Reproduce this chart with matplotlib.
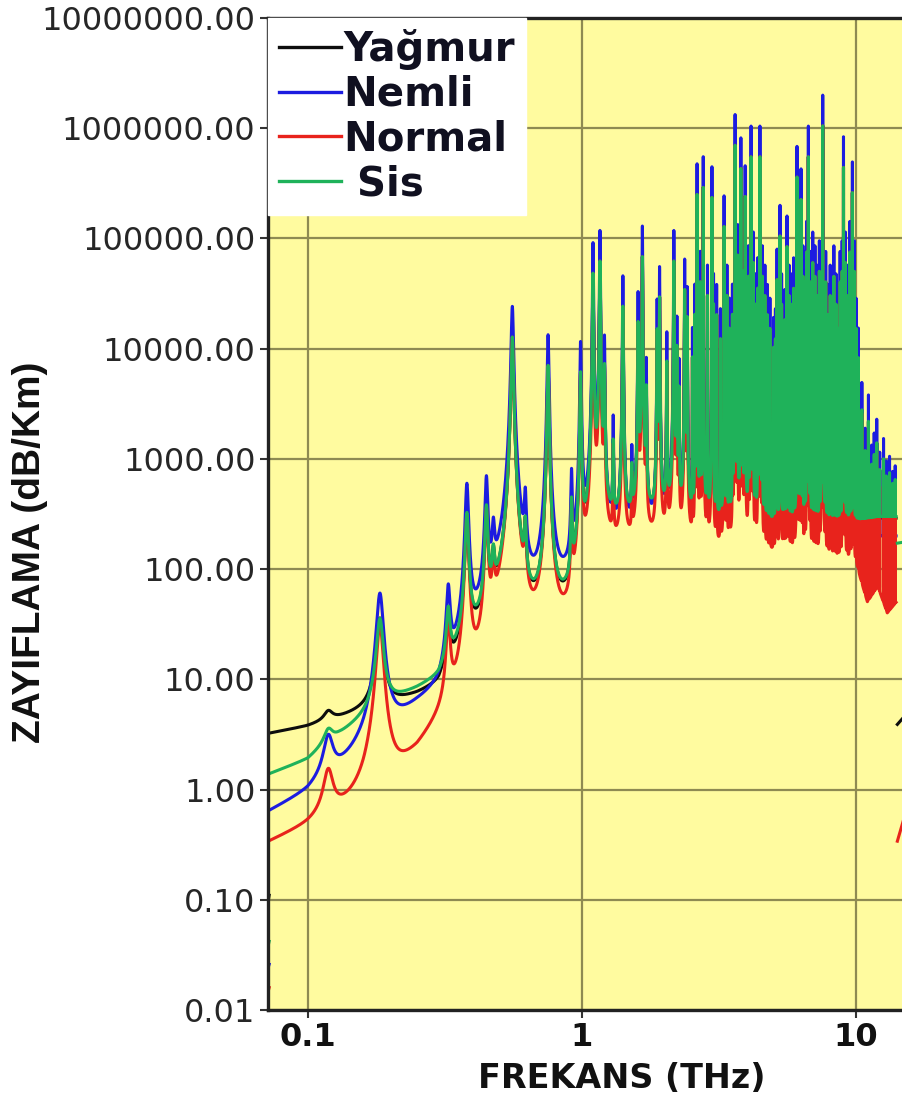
import numpy as np
import matplotlib
matplotlib.use("Agg")
import matplotlib.pyplot as plt
from matplotlib.lines import Line2D

# absorption line centres (THz) and peak attenuation for the "Normal" case (dB/Km)
line_thz = [0.1187, 0.1831, 0.3252, 0.3802, 0.4480, 0.4750, 0.5570, 0.6210, 0.7520,
            0.9160, 0.9880, 1.0970, 1.1630, 1.2080, 1.3000, 1.4100, 1.5200, 1.6020,
            1.6610, 1.7170, 1.8800, 1.9190, 2.0400, 2.1640, 2.2200, 2.2600, 2.3700,
            2.4200, 2.5300, 2.5800, 2.6300, 2.7000, 2.7700, 2.8700, 2.9800, 3.0200,
            3.1000, 3.2000, 3.3000, 3.3800, 3.4500, 3.5400, 3.6200, 3.7000, 3.8000,
            3.8700, 3.9400, 4.0500, 4.1400, 4.2200, 4.3000, 4.3800, 4.4600, 4.5500,
            4.6500, 4.7500, 4.8500, 5.0000, 5.0800, 5.1500, 5.2800, 5.3500, 5.4300,
            5.5000, 5.6000, 5.7000, 5.8000, 5.9200, 6.0900, 6.2000, 6.3000, 6.4000,
            6.5000, 6.6000, 6.7000, 6.8200, 6.9500, 7.0800, 7.2000, 7.3500, 7.4500,
            7.5600, 7.7500, 7.9000, 8.0500, 8.1500, 8.3000, 8.4500, 8.6000, 8.7500,
            8.9000, 9.0000, 9.1500, 9.3000, 9.5000, 9.7000, 9.8500, 10.000, 10.200,
            10.500, 10.800, 11.100, 11.400, 11.650, 11.900, 12.200, 12.600, 12.900,
            13.250, 13.600, 13.900]
line_peak = [0.9, 30, 30, 300, 330, 85, 12700, 190, 7000,
             340, 6000, 48000, 62000, 6500, 1150, 24000, 520, 17000,
             68000, 4000, 14500, 29000, 7300, 62000, 10000, 4000, 34000,
             19000, 8000, 20000, 250000, 40000, 290000, 30000, 235000, 25000,
             20000, 12000, 128000, 30000, 15000, 20000, 700000, 70000, 430000,
             50000, 240000, 45000, 550000, 60000, 25000, 35000, 550000, 45000,
             30000, 20000, 15000, 10000, 12000, 42000, 105000, 25000, 15000,
             18000, 84000, 30000, 25000, 35000, 360000, 50000, 225000, 45000,
             40000, 75000, 550000, 40000, 60000, 45000, 30000, 50000, 25000,
             1050000, 40000, 20000, 30000, 15000, 45000, 25000, 15000, 40000,
             50000, 440000, 60000, 30000, 75000, 260000, 50000, 15000, 8000,
             2500, 900, 1900, 600, 800, 1100, 500, 700, 400,
             450, 300, 350]

# background (continuum) attenuation between the lines, per weather case
cont_thz = [0.07, 0.1, 0.13, 0.16, 0.2, 0.25, 0.3, 0.4, 0.5, 0.7, 0.9, 1.2, 2.0, 4.0, 8.0, 10.0, 11.0, 12.0, 13.0, 14.0]
cont_yagmur = [3.2, 3.8, 4.6, 5.4, 6.5, 7.6, 9.0, 25, 42, 42, 48, 230, 280, 260, 260, 260, 280, 290, 290, 290]
cont_nemli = [0.62, 1.0, 1.7, 2.6, 4.5, 6.5, 8.5, 30, 60, 65, 80, 170, 200, 190, 180, 180, 190, 200, 200, 200]
cont_normal = [0.33, 0.5, 0.72, 0.95, 1.6, 2.5, 4.2, 10, 22, 30, 32, 150, 170, 150, 130, 110, 50, 70, 40, 50]
cont_sis = [1.35, 1.9, 3.2, 4.5, 6.8, 8.5, 10.5, 28, 45, 45, 51, 250, 300, 280, 280, 280, 290, 300, 300, 300]

# line strength relative to the Normal case, and line broadening above 1 THz
scale_yagmur, scale_nemli, scale_normal, scale_sis = 1.0, 1.9, 1.0, 1.0
broad_yagmur, broad_nemli, broad_normal, broad_sis = 1.2, 1.0, 1.0, 1.2
# half-widths (THz) below 1 THz, 1-2.5 THz and above 2.5 THz
width_low, width_mid, width_high = 0.005, 0.0035, 0.0011

# short pieces at the two ends of the frequency range
head_thz = [0.0700, 0.0722]
head_yagmur = [0.07, 0.11]
head_nemli = [0.020, 0.026]
head_normal = [0.012, 0.016]
head_sis = [0.030, 0.042]
tail_thz = [14.15, 15.0]
tail_yagmur = [3.9, 4.6]
tail_normal = [0.34, 0.56]
tail_sis = [172, 176]

labels = ["Yağmur", "Nemli", "Normal", " Sis"]
colors = ["#0d0d0d", "#1c1ce0", "#e8231c", "#1fb25a"]


def spectrum(cont_vals, scale, broad, f):
    total = 10 ** np.interp(np.log10(f), np.log10(cont_thz), np.log10(cont_vals))
    for f0, h in zip(line_thz, line_peak):
        if f0 < 1:
            g = width_low
        elif f0 < 2.5:
            g = width_mid * broad
        else:
            g = width_high * broad
        d = f - f0
        total += scale * h * g ** 2 / (d ** 2 + g ** 2) * np.exp(-(d / (0.25 * f0)) ** 2)
    return total


freq = np.unique(np.concatenate([np.geomspace(0.0715, 14.0, 9000), line_thz]))
series = [
    (cont_yagmur, scale_yagmur, broad_yagmur, head_yagmur, tail_yagmur),
    (cont_nemli, scale_nemli, broad_nemli, head_nemli, None),
    (cont_normal, scale_normal, broad_normal, head_normal, tail_normal),
    (cont_sis, scale_sis, broad_sis, head_sis, tail_sis),
]

W, H = 902, 1102
fig = plt.figure(figsize=(W / 100, H / 100), dpi=100)
ax = fig.add_axes([268 / W, 92 / H, (976 - 268) / W, 992 / H])
ax.set_facecolor('#fffb9f')
ax.set_xscale('log')
ax.set_yscale('log')

for (cont, k, b, head, tail), c in zip(series, colors):
    ax.plot(freq, spectrum(cont, k, b, freq), color=c, lw=2.2, solid_joinstyle='round')
    ax.plot(head_thz, head, color=c, lw=2.2)
    if tail is not None:
        ax.plot(tail_thz, tail, color=c, lw=2.2)

ax.set_xlim(0.0715, 27.4)
ax.set_ylim(0.01, 1e7)
ax.set_axisbelow(True)
ax.grid(True, which='major', color='#8e8a52', lw=1.6)
ax.minorticks_off()

yt = [0.01, 0.1, 1, 10, 100, 1000, 1e4, 1e5, 1e6, 1e7]
ax.set_yticks(yt)
ax.set_yticklabels([f"{v:.2f}" for v in yt], fontsize=23, color='#262626')
ax.set_xticks([0.1, 1, 10])
ax.set_xticklabels(["0.1", "1", "10"], fontsize=23, fontweight='bold', color='#111111')
ax.tick_params(axis='both', direction='out', length=6, width=1.5, color='#333333', pad=3)

for s in ['left', 'bottom', 'top']:
    ax.spines[s].set_color('#222222')
    ax.spines[s].set_linewidth(2.4)
ax.spines['right'].set_visible(False)

handles = [Line2D([], [], color=c, lw=2.4) for c in colors]
leg = ax.legend(handles, labels, loc='upper left', bbox_to_anchor=(0, 1), borderaxespad=0,
                prop={'weight': 'bold', 'size': 29}, handlelength=1.55, handletextpad=0.05,
                labelspacing=0.12, borderpad=0.27, frameon=True, fancybox=False)
leg.get_frame().set_facecolor('white')
leg.get_frame().set_edgecolor('white')
leg.get_frame().set_alpha(1)
for t in leg.get_texts():
    t.set_color('#101020')

fig.text(622 / W, 1 - 1078 / H, "FREKANS (THz)", ha='center', va='center',
         fontsize=24, fontweight='bold', color='#111111')
fig.text(30 / W, 1 - 552 / H, "ZAYIFLAMA (dB/Km)", ha='center', va='center',
         rotation=90, fontsize=28, fontweight='bold', color='#111111',
         family=['Liberation Sans', 'DejaVu Sans'])

fig.savefig("out.png", dpi=100)
